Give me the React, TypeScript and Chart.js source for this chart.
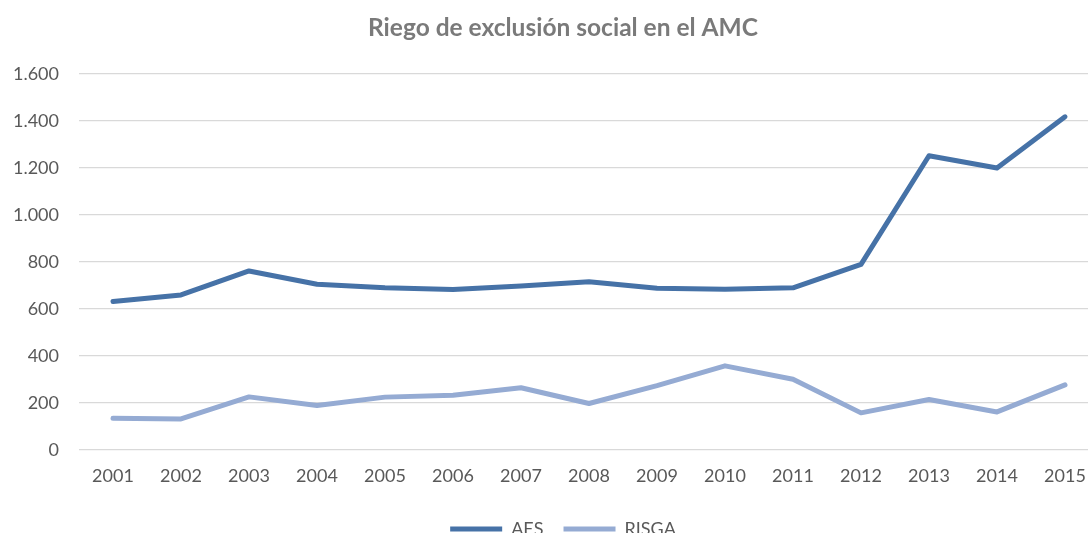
import React, { useEffect, useRef } from "react";
import { Chart, registerables } from "chart.js";

Chart.register(...registerables);

const years = ["2001","2002","2003","2004","2005","2006","2007","2008","2009","2010","2011","2012","2013","2014","2015"];
const aes = [632, 660, 762, 705, 690, 683, 698, 716, 688, 684, 690, 790, 1252, 1200, 1418];
const risga = [135, 132, 226, 189, 225, 233, 265, 198, 274, 358, 301, 158, 215, 162, 277];
const yTicks = [0, 200, 400, 600, 800, 1000, 1200, 1400, 1600];

const titleText = "Riego de exclusión social en el AMC";
const aesColor = "#4672a7";
const risgaColor = "#95abd3";
const fontFamily = "Lato, 'Open Sans', sans-serif";

function fmt(v: number): string {
  return String(v).replace(/\B(?=(\d{3})+(?!\d))/g, ".");
}

export default function App() {
  const ref = useRef<HTMLCanvasElement | null>(null);
  useEffect(() => {
    document.body.style.margin = "0";
    document.body.style.overflow = "hidden";
    const ctx = ref.current!;
    const chart = new Chart(ctx, {
      type: "line",
      data: {
        labels: years,
        datasets: [
          { label: "AES", data: aes, borderColor: aesColor, backgroundColor: aesColor, borderWidth: 5, pointRadius: 0, tension: 0, borderCapStyle: "round", borderJoinStyle: "round" },
          { label: "RISGA", data: risga, borderColor: risgaColor, backgroundColor: risgaColor, borderWidth: 5, pointRadius: 0, tension: 0, borderCapStyle: "round", borderJoinStyle: "round" },
        ],
      },
      options: {
        animation: false,
        responsive: true,
        maintainAspectRatio: false,
        layout: { padding: 0 },
        plugins: {
          tooltip: { enabled: false },
          title: {
            display: true,
            text: titleText,
            color: "#7a7a7a",
            font: { family: fontFamily, size: 24.5, weight: "bold", lineHeight: 1.2 },
            padding: { top: 13.3, bottom: 31.3 },
          },
          legend: {
            position: "bottom",
            labels: {
              color: "#595959",
              font: { family: fontFamily, size: 18 },
              boxWidth: 52,
              boxHeight: 5,
              padding: 20,
              generateLabels: (c: any) =>
                c.data.datasets.map((d: any, i: number) => ({
                  text: d.label,
                  fillStyle: d.borderColor,
                  strokeStyle: d.borderColor,
                  lineWidth: 0,
                  hidden: false,
                  datasetIndex: i,
                  fontColor: "#595959",
                })),
            },
          },
        },
        scales: {
          x: {
            offset: true,
            grid: { display: false, drawTicks: false },
            border: { display: false },
            ticks: { color: "#595959", font: { family: fontFamily, size: 18 }, padding: 15, maxRotation: 0, autoSkip: false },
            afterFit: (s: any) => { s.height = 50; },
          },
          y: {
            min: 0,
            max: 1600,
            afterBuildTicks: (s: any) => { s.ticks = yTicks.map((v) => ({ value: v })); },
            grid: { color: "#d9d9d9", lineWidth: 1.3, drawTicks: false },
            border: { display: false },
            ticks: { color: "#595959", font: { family: fontFamily, size: 18 }, padding: 20, callback: (v: any) => fmt(Number(v)) },
            afterFit: (s: any) => { s.width = 79; },
          },
          y2: {
            position: "right",
            display: true,
            grid: { display: false, drawTicks: false },
            border: { display: false },
            ticks: { display: false },
            afterFit: (s: any) => { s.width = 27; },
          },
        },
      },
    });
    return () => chart.destroy();
  }, []);
  return (
    <div style={{ width: 1088, height: 533, overflow: "hidden", position: "relative" }}>
      <div style={{ width: 1126, height: 548, position: "absolute", left: 0, top: 0 }}>
        <canvas ref={ref} />
      </div>
    </div>
  );
}
